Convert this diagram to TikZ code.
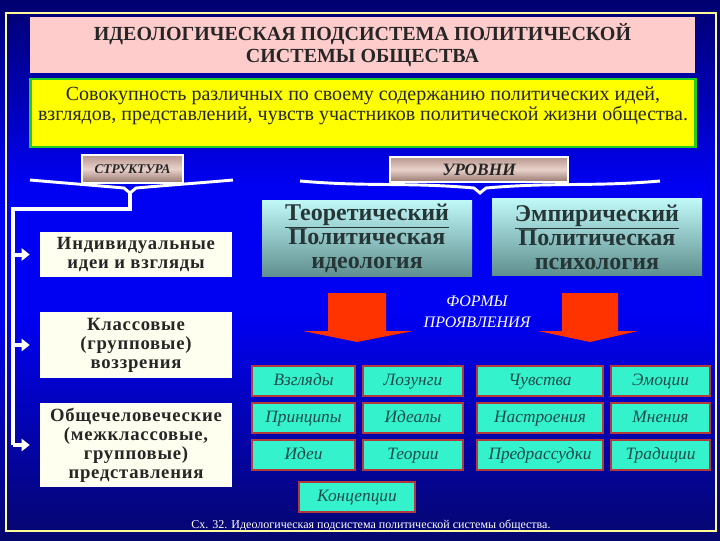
\documentclass[tikz,border=0pt]{standalone}
\usepackage{fontspec}
\setmainfont{Liberation Serif}
\newfontfamily\widebold[LetterSpace=4, BoldFont={Liberation Serif Bold}]{Liberation Serif}
\usepackage{tikz}
\usepackage{xcolor}
\usetikzlibrary{arrows.meta}
\definecolor{bgTop}{HTML}{000070}
\definecolor{bgMid}{HTML}{0000F2}
\definecolor{bgBot}{HTML}{06066E}
\definecolor{frameY}{HTML}{FFFF99}
\definecolor{headPink}{HTML}{FFCCCC}
\definecolor{defYellow}{HTML}{FFFF00}
\definecolor{defGreen}{HTML}{22CC22}
\definecolor{tabTop}{HTML}{B8968E}
\definecolor{tabMid}{HTML}{E8D2CA}
\definecolor{tabBot}{HTML}{96766E}
\definecolor{kindFill}{HTML}{FFFFF0}
\definecolor{lvlTop}{HTML}{C0F8F8}
\definecolor{lvlBot}{HTML}{5F8E8E}
\definecolor{lvlText}{HTML}{263636}
\definecolor{formFill}{HTML}{33F2CC}
\definecolor{formEdge}{HTML}{B23A3A}
\definecolor{formText}{HTML}{1F4A4A}
\definecolor{arrowRed}{HTML}{FF3300}
\definecolor{inkDark}{HTML}{262626}

\begin{document}
\begin{tikzpicture}[x=0.75pt, y=-0.75pt,
  head/.style={fill=headPink, minimum width=498.75pt, minimum height=42pt,
               align=center, text=inkDark, font=\bfseries\fontsize{15}{16.5}\selectfont},
  defbox/.style={fill=defYellow, draw=defGreen, line width=2pt,
                 minimum width=499pt, minimum height=51pt, align=center,
                 text=inkDark, font=\fontsize{15}{13.5}\selectfont},
  tab/.style={draw=white, line width=1.2pt, top color=tabTop, bottom color=tabBot,
              middle color=tabMid, inner sep=1pt, text=inkDark,
              font=\bfseries\itshape},
  brace/.style={draw=white, line width=2.2pt},
  kind/.style={fill=kindFill, minimum width=144pt, align=center, inner sep=1pt,
               text=inkDark, font=\widebold\bfseries\fontsize{14}{14.25}\selectfont},
  level/.style={top color=lvlTop, bottom color=lvlBot, minimum width=157.5pt,
                minimum height=57.5pt, align=center, inner sep=1pt, text=lvlText,
                font=\bfseries\fontsize{18}{18}\selectfont},
  form/.style={fill=formFill, draw=formEdge, line width=1.5pt, minimum height=23pt,
               inner sep=1pt, text height=9pt, text depth=3pt, text=formText,
               font=\itshape\fontsize{13}{14}\selectfont},
  trunk/.style={draw=white, line width=3pt},
  arr/.style={draw=white, line width=3pt, shorten >=7.5pt,
              -{Triangle[length=6pt, width=9pt]}},
  blockarrow/.style={fill=arrowRed},
]
  \useasboundingbox (0,0) rectangle (720,540);
  \shade[top color=bgTop, bottom color=bgMid] (0,0) rectangle (720,185);
  \fill[bgMid] (0,184) rectangle (720,316);
  \shade[top color=bgMid, bottom color=bgBot] (0,315) rectangle (720,540);
  \draw[frameY, line width=1.5pt] (6,13) rectangle (716,531);

  % heading and definition
  \node[head] (title) at (362.5,45) {ИДЕОЛОГИЧЕСКАЯ ПОДСИСТЕМА ПОЛИТИЧЕСКОЙ\\СИСТЕМЫ ОБЩЕСТВА};
  \node[defbox] (defn) at (363,113) {Совокупность различных по своему содержанию политических идей,\\
    взглядов, представлений, чувств участников политической жизни общества.\\ \mbox{}};

  % structure branch
  \draw[brace] (30,180) to[out=-5, in=175] (124,188) -- (130,193) -- (136,188)
    to[out=5, in=185] (233,180);
  \node[tab, minimum width=75.75pt, minimum height=21pt, font=\bfseries\itshape\fontsize{10}{11}\selectfont]
    (struct) at (132.5,169) {СТРУКТУРА};
  \coordinate (stip) at (130,193);
  \coordinate (trunkTop) at (13,209);

  \node[kind, minimum height=33.75pt] (indiv) at (136,254.5) {Индивидуальные\\идеи и взгляды};
  \node[kind, minimum height=49.5pt] (klass) at (136,345) {Классовые\\(групповые)\\воззрения};
  \node[kind, minimum height=63pt] (common) at (136,445)
    {Общечеловеческие\\(межклассовые,\\групповые)\\представления};

  \draw[trunk] (stip) |- (trunkTop) -- (trunkTop |- common.west);
  \draw[arr] (trunkTop |- indiv.west) -- (indiv.west);
  \draw[arr] (trunkTop |- klass.west) -- (klass.west);
  \draw[arr] (trunkTop |- common.west) -- (common.west);

  % levels branch
  \draw[brace] (300,181) to[out=-5, in=175] (474,188) -- (480,193) -- (486,188)
    to[out=5, in=185] (660,181);
  \node[tab, minimum width=133.5pt, minimum height=18.75pt, font=\bfseries\itshape\fontsize{13}{14}\selectfont]
    (levels) at (479,169.5) {УРОВНИ};

  \node[level] (theor) at (367,238.5) {\underline{Теоретический}\\Политическая\\идеология};
  \node[level] (empir) at (597,237) {\underline{Эмпирический}\\Политическая\\психология};

  % forms of manifestation
  \fill[blockarrow] (328,293) -- (386,293) -- (386,331) -- (413,331) -- (357,342)
    -- (303,331) -- (328,331) -- cycle;
  \fill[blockarrow] (562,293) -- (618,293) -- (618,331) -- (638,331) -- (590,342)
    -- (538,331) -- (562,331) -- cycle;
  \node[align=center, text=white, font=\itshape\fontsize{12}{16}\selectfont]
    (forms) at (477,312) {ФОРМЫ\\ПРОЯВЛЕНИЯ};

  \node[form, minimum width=77.25pt] (f11) at (303.5,381) {Взгляды};
  \node[form, minimum width=75pt]    (f12) at (413,381)   {Лозунги};
  \node[form, minimum width=94.5pt]  (f13) at (540,381)   {Чувства};
  \node[form, minimum width=74.25pt] (f14) at (660.5,381) {Эмоции};
  \node[form, minimum width=77.25pt] (f21) at (303.5,418) {Принципы};
  \node[form, minimum width=75pt]    (f22) at (413,418)   {Идеалы};
  \node[form, minimum width=94.5pt]  (f23) at (540,418)   {Настроения};
  \node[form, minimum width=74.25pt] (f24) at (660.5,418) {Мнения};
  \node[form, minimum width=77.25pt] (f31) at (303.5,455) {Идеи};
  \node[form, minimum width=75pt]    (f32) at (413,455)   {Теории};
  \node[form, minimum width=94.5pt]  (f33) at (540,455)   {Предрассудки};
  \node[form, minimum width=74.25pt] (f34) at (660.5,455) {Традиции};
  \node[form, minimum width=87pt]    (f41) at (357,497)   {Концепции};

  \node[text=white, font=\fontsize{9}{10}\selectfont] (caption) at (371,525)
    {Сх. 32. Идеологическая подсистема политической системы общества.};
\end{tikzpicture}
\end{document}
